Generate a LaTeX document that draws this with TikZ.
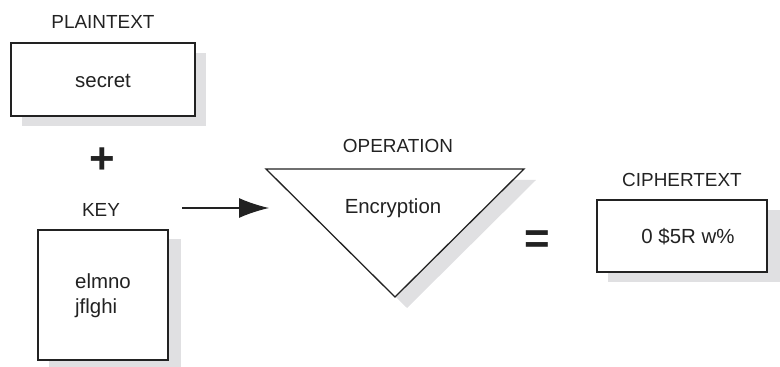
\documentclass[tikz,border=0pt]{standalone}
\usepackage{fontspec}
\setmainfont{Liberation Sans}
\usetikzlibrary{arrows.meta}
\definecolor{shadowgray}{HTML}{E0E0E2}
\definecolor{ink}{HTML}{222222}
\tikzset{
  box/.style={draw=ink,line width=1.3bp,fill=white,inner sep=0pt},
  boxshadow/.style={fill=shadowgray,draw=none},
  label/.style={draw=none,text=ink,font=\fontsize{19}{24}\selectfont},
  content/.style={draw=none,text=ink,font=\fontsize{20.5}{25}\selectfont},
  sign/.style={draw=none,text=ink,font=\bfseries\fontsize{44}{44}\selectfont}
}
\begin{document}
\begin{tikzpicture}[>=latex,line join=miter,]
\useasboundingbox (0bp,0bp) rectangle (780bp,367bp);
%%
% plaintext
\fill [boxshadow] (22bp,241bp) rectangle (206bp,314bp);
\node (plain_box) at (103bp,287.5bp) [box,minimum width=184bp,minimum height=73bp] {};
  \node (plain_lbl) at (103bp,345bp) [label] {PLAINTEXT};
  \node (plain_txt) at (103bp,286bp) [content] {secret};
\node (plus) at (102bp,206bp) [sign] {+};
%
% key
\fill [boxshadow] (49bp,0bp) rectangle (181bp,128bp);
\node (key_box) at (103bp,72bp) [box,minimum width=130bp,minimum height=130bp] {};
  \node (key_lbl) at (101bp,157bp) [label] {KEY};
  \node (key_txt) at (75bp,71.5bp) [content,anchor=west,align=left,inner sep=0pt] {elmno\\jflghi};
\coordinate (arrow_from) at (182bp,159bp);
\coordinate (arrow_to) at (269bp,159bp);
  \draw [ink,line width=1.2bp,-{Latex[length=30bp,width=20bp]}] (arrow_from) -- (arrow_to);
%
% operation
\coordinate (op_left) at (266bp,198bp);
\coordinate (op_right) at (524bp,198bp);
\coordinate (op_tip) at (395bp,70bp);
\fill [boxshadow] ([shift={(12bp,-11bp)}]op_left) -- ([shift={(12bp,-11bp)}]op_right) -- ([shift={(12bp,-11bp)}]op_tip) -- cycle;
\draw [ink,line width=1.3bp,fill=white] (op_left) -- (op_right) -- (op_tip) -- cycle;
  \node (op_lbl) at (398bp,221bp) [label] {OPERATION};
  \node (op_txt) at (393bp,159bp) [content] {Encryption};
\node (equals) at (537bp,125bp) [sign] {=};
%
% ciphertext
\fill [boxshadow] (608bp,85bp) rectangle (780bp,157bp);
\node (cipher_box) at (682bp,131bp) [box,minimum width=170bp,minimum height=72bp] {};
  \node (cipher_lbl) at (682bp,187bp) [label] {CIPHERTEXT};
  \node (cipher_txt) at (688bp,130bp) [content] {0 \$5R w\%};
%
\end{tikzpicture}
\end{document}
